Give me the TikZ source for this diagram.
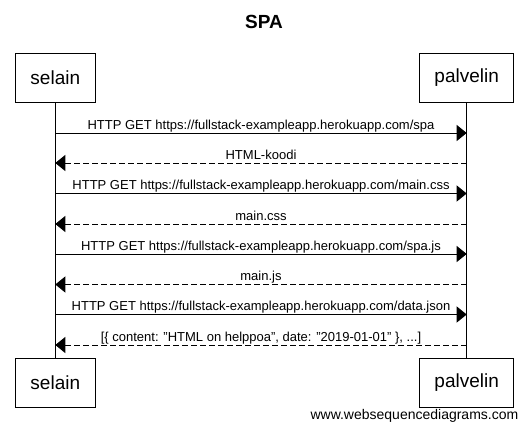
\documentclass[tikz,border=0pt]{standalone}
\usepackage{fontspec}
\setmainfont{Liberation Sans}
\usetikzlibrary{arrows.meta}

\begin{document}
\begin{tikzpicture}[x=1pt, y=-1pt,
    actor/.style={draw, line width=1pt, inner sep=0pt, minimum height=49pt, font=\fontsize{19}{22}\selectfont},
    msg/.style={line width=1pt, -{Triangle[length=10pt, width=16pt]}},
    reply/.style={msg, dash pattern=on 6pt off 3pt},
    lbl/.style={anchor=base, yshift=3.7pt, inner sep=0pt, font=\fontsize{13}{15}\selectfont}]
    \useasboundingbox (0,0) rectangle (528,432);

    \node[font=\fontsize{19}{22}\selectfont\bfseries, anchor=base] (title) at (264,28.3) {SPA};

    \node[actor, minimum width=80.5pt] (selT) at (55.3,77.5) {selain};
    \node[actor, minimum width=93.5pt] (palT) at (466.7,77.5) {palvelin};
    \node[actor, minimum width=80.5pt] (selB) at (55.3,382.5) {selain};
    \node[actor, minimum width=93.5pt] (palB) at (466.7,382.5) {palvelin};

    \draw[line width=1pt] (selT) -- (selB);
    \draw[line width=1pt] (palT) -- (palB);

    \foreach \y [count=\i] in {133,163,193.5,224,254,284.5,314.5,345} {
        \coordinate (s\i) at (55.3,\y);
        \coordinate (p\i) at (466.7,\y);
    }

    \draw[msg] (s1) -- node[lbl] {HTTP GET https://fullstack-exampleapp.herokuapp.com/spa} (p1);
    \draw[reply] (p2) -- node[lbl] {HTML-koodi} (s2);
    \draw[msg] (s3) -- node[lbl] {HTTP GET https://fullstack-exampleapp.herokuapp.com/main.css} (p3);
    \draw[reply] (p4) -- node[lbl] {main.css} (s4);
    \draw[msg] (s5) -- node[lbl] {HTTP GET https://fullstack-exampleapp.herokuapp.com/spa.js} (p5);
    \draw[reply] (p6) -- node[lbl] {main.js} (s6);
    \draw[msg] (s7) -- node[lbl] {HTTP GET https://fullstack-exampleapp.herokuapp.com/data.json} (p7);
    \draw[reply] (p8) -- node[lbl] {[\{ content: "HTML on helppoa", date: "2019-01-01" \}, ...]} (s8);

    \node[anchor=base east, inner sep=0pt, font=\fontsize{14}{16}\selectfont] (credit) at (518.5,419) {www.websequencediagrams.com};
\end{tikzpicture}
\end{document}
